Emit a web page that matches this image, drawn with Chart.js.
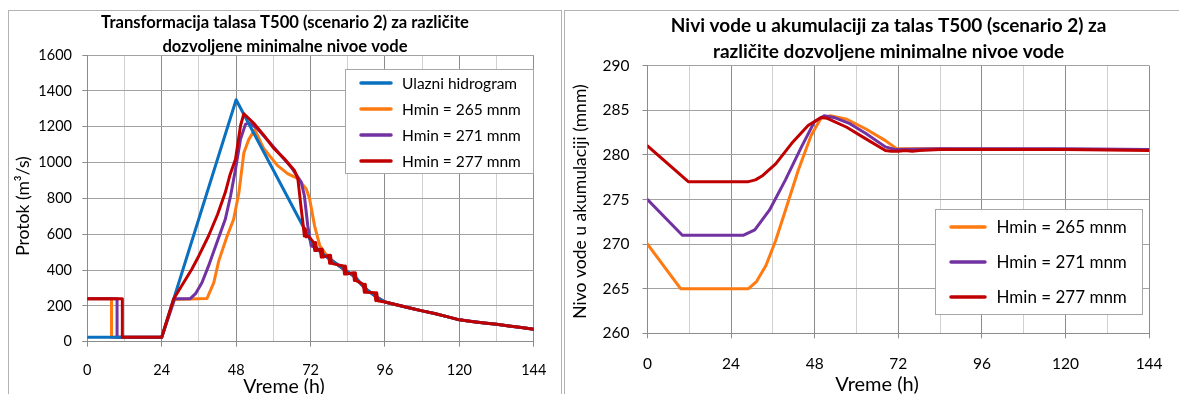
<!DOCTYPE html>
<html><head>
<meta charset="utf-8">
<title>T500 scenario 2</title>
<script src="https://cdn.jsdelivr.net/npm/chart.js"></script>
<style>
  body { margin:0; background:#fff; width:1179px; height:394px; overflow:hidden; position:relative; font-family:Lato, sans-serif }
  .panel { position:absolute; border:1.5px solid #b2b2b2; box-sizing:border-box }
  canvas { position:absolute }
</style>
</head><body>
<div class="panel" style="left:8px;top:10px;width:554px;height:420px"></div>
<div class="panel" style="left:564px;top:10px;width:640px;height:420px"></div>
<canvas id="left" width="553" height="400" style="left:8px;top:11px"></canvas>
<canvas id="right" width="615" height="400" style="left:564px;top:10px"></canvas>
<script>
// --- left chart: discharge (m3/s) vs time (h) ---
const hoursIn = [0, 24, 48, 72, 73.5, 75.6, 78.3, 83.1, 86.3, 89.5, 93.2, 96, 100, 104, 108, 112, 116, 120, 124, 128, 132, 136, 140, 144];
const flowIn  = [25, 25, 1350, 565, 531, 494, 460, 400, 363, 298, 251, 222, 205, 188, 172, 157, 140, 122, 113, 105, 97, 88, 79, 70];

const hours265 = [0, 7.8, 7.8, 24, 27.9, 38.6, 40.8, 42.4, 45.1, 47.2, 48.9, 50.5, 52.1, 54.0, 56.9, 61.3, 64.6, 67.9, 70.6, 71.7, 73.3, 75, 76.6, 78.3, 83.1, 86.3, 89.5, 93.2, 96, 100, 104, 108, 112, 116, 120, 124, 128, 132, 136, 140, 144];
const flow265  = [240, 240, 25, 25, 235, 241, 330, 451, 590, 683, 832, 1055, 1129, 1183, 1078, 984, 938, 910, 853, 797, 647, 535, 497, 460, 400, 363, 298, 251, 222, 205, 188, 172, 157, 140, 122, 113, 105, 97, 88, 79, 70];

const hours271 = [0, 9.6, 9.6, 24, 28.2, 33.2, 35, 37, 39.1, 41.8, 44.5, 46.2, 47.8, 49.4, 51, 52.1, 54.8, 59.1, 62.4, 65.7, 69, 70, 71.1, 72.2, 74, 75.6, 78.3, 83.1, 86.3, 89.5, 93.2, 96, 100, 104, 108, 112, 116, 120, 124, 128, 132, 136, 140, 144];
const flow271  = [240, 240, 25, 25, 240, 240, 270, 330, 423, 553, 683, 813, 962, 1129, 1213, 1222, 1190, 1106, 1041, 975, 891, 816, 647, 535, 522, 494, 460, 400, 363, 298, 251, 222, 205, 188, 172, 157, 140, 122, 113, 105, 97, 88, 79, 70];

const hours277 = [0, 11.3, 11.3, 24, 27.8, 30, 33.7, 36, 39.1, 42, 44.5, 46, 47.8, 49.4, 50.5, 53.7, 56.9, 60.2, 63.5, 66.8, 67.9, 69, 69.7, 70.0, 70.3, 70.6, 71.1, 72,
  73.05, 73.35, 73.65, 73.95, 75.15, 75.45, 75.75, 76.05, 77.85, 78.15, 78.45, 78.75, 80.5,
  82.65, 82.95, 83.25, 83.55, 85.85, 86.15, 86.45, 86.75, 89.05, 89.35, 89.65, 89.95, 92.75, 93.05, 93.35, 93.65,
  96, 100, 104, 108, 112, 116, 120, 124, 128, 132, 136, 140, 144];
const flow277  = [240, 240, 25, 25, 237, 300, 404, 480, 590, 710, 832, 930, 1018, 1204, 1272, 1219, 1153, 1078, 1022, 956, 910, 741, 640, 590, 630, 585, 591, 575,
  553, 509, 553, 509, 516, 472, 516, 472, 482, 438, 482, 438, 430,
  422, 378, 422, 378, 385, 341, 385, 341, 320, 276, 320, 276, 273, 229, 273, 229,
  222, 205, 188, 172, 157, 140, 122, 113, 105, 97, 88, 79, 70];

// --- right chart: reservoir level (mnm) vs time (h) ---
const lvlHours265 = [0, 9.5, 29, 31.3, 34, 36.8, 39.6, 43.3, 47, 49.8, 52.5, 57.2, 62.7, 68.3, 71.5, 84, 120, 144];
const level265    = [270, 265, 265, 265.8, 267.6, 270.4, 273.8, 278.3, 282.2, 284.1, 284.4, 284, 282.9, 281.6, 280.7, 280.7, 280.6, 280.6];
const lvlHours271 = [0, 10, 27.6, 30.8, 35, 39.6, 44.2, 47.9, 50.7, 53.5, 58.1, 62.7, 68.3, 71, 84, 120, 144];
const level271    = [275, 271, 271, 271.6, 273.8, 277.2, 280.9, 283.7, 284.4, 284.2, 283.5, 282.4, 280.9, 280.6, 280.7, 280.7, 280.6];
const lvlHours277 = [0, 11.7, 29, 31, 33.1, 36.8, 41.4, 46.1, 49.8, 51.6, 57.2, 62.7, 68.3, 70, 72, 74, 76, 78, 84, 96, 120, 144];
const level277    = [281.0, 277, 277, 277.2, 277.7, 279, 281.3, 283.3, 284.2, 284.1, 283.1, 281.8, 280.5, 280.4, 280.4, 280.5, 280.4, 280.5, 280.6, 280.6, 280.6, 280.5];

const xTicks = [0, 24, 48, 72, 96, 120, 144];

const BLUE = '#0a70c0', ORANGE = '#ff7a10', PURPLE = '#7232a2', RED = '#c00000';
const FONT = 'Lato, "Liberation Sans", sans-serif';

const pts = (xs, ys) => xs.map((x, i) => ({ x, y: ys[i] }));

// legend box drawn inside the plot, like the Excel original
const boxLegend = {
  id: 'boxLegend',
  afterDraw(chart, args, o) {
    const ctx = chart.ctx;
    ctx.save();
    ctx.fillStyle = '#fff';
    ctx.fillRect(o.x, o.y, o.w, o.h);
    ctx.strokeStyle = '#a6a6a6';
    ctx.lineWidth = 1;
    ctx.strokeRect(o.x + 0.5, o.y + 0.5, o.w, o.h);
    ctx.font = o.font;
    ctx.textBaseline = 'middle';
    chart.data.datasets.forEach((ds, i) => {
      const y = o.rows[i];
      ctx.strokeStyle = ds.borderColor;
      ctx.lineWidth = 3.5;
      ctx.lineCap = 'round';
      ctx.beginPath();
      ctx.moveTo(o.lineX1, y);
      ctx.lineTo(o.lineX2, y);
      ctx.stroke();
      ctx.fillStyle = '#000';
      ctx.fillText(ds.label, o.textX, y + 1);
    });
    ctx.restore();
  }
};

// chart title and axis captions placed where Excel put them (not centred on the plot)
const captions = {
  id: 'captions',
  afterDraw(chart, args, o) {
    const ctx = chart.ctx;
    ctx.save();
    ctx.fillStyle = '#000';
    ctx.textAlign = 'center';
    ctx.textBaseline = 'middle';
    o.items.forEach(it => {
      ctx.save();
      ctx.font = it.font;
      ctx.translate(it.x, it.y);
      if (it.vertical) ctx.rotate(-Math.PI / 2);
      ctx.fillText(it.text, 0, 0);
      ctx.restore();
    });
    ctx.restore();
  }
};

function xAxis(size, tickPad, height) {
  return {
    type: 'linear', min: 0, max: 144,
    afterFit: s => { s.height = height; },
    afterBuildTicks: s => { s.ticks = []; for (let v = 0; v <= 144; v += 12) s.ticks.push({ value: v }); },
    ticks: {
      autoSkip: false, maxRotation: 0, padding: tickPad, color: '#000',
      font: { family: FONT, size },
      callback: v => xTicks.includes(v) ? String(v) : ''
    },
    grid: {
      color: c => (c.tick && xTicks.includes(c.tick.value)) ? '#8c8c8c' : '#d0d0d0',
      tickColor: c => (c.tick && xTicks.includes(c.tick.value)) ? '#8c8c8c' : 'rgba(0,0,0,0)',
      tickLength: 5
    },
    border: { color: '#8c8c8c' }
  };
}

function yAxis(min, max, step, size, tickPad, width) {
  return {
    min, max,
    afterFit: s => { s.width = width; },
    ticks: { stepSize: step, padding: tickPad, color: '#000', font: { family: FONT, size }, callback: v => String(v) },
    grid: { color: '#a2a2a2', tickColor: '#8c8c8c', tickLength: 5 },
    border: { color: '#8c8c8c' }
  };
}

const lineDs = (label, data, color, order) => ({
  label, data, borderColor: color, backgroundColor: color, borderWidth: 3,
  pointRadius: 0, tension: 0, order, borderJoinStyle: 'round', borderCapStyle: 'round'
});

new Chart(document.getElementById('left'), {
  type: 'line',
  data: {
    datasets: [
      lineDs('Ulazni hidrogram', pts(hoursIn, flowIn), BLUE, 1),
      lineDs('Hmin = 265 mnm', pts(hours265, flow265), ORANGE, 3),
      lineDs('Hmin = 271 mnm', pts(hours271, flow271), PURPLE, 2),
      lineDs('Hmin = 277 mnm', pts(hours277, flow277), RED, 0)
    ]
  },
  options: {
    responsive: false, animation: false, events: [],
    layout: { padding: { left: 0, right: 21.4, top: 44, bottom: 0 } },
    scales: {
      x: xAxis(14.5, 14.6, 69.3),
      y: yAxis(0, 1600, 200, 14.5, 10.3, 79.3)
    },
    plugins: {
      legend: { display: false },
      tooltip: { enabled: false },
      boxLegend: {
        x: 337, y: 58, w: 188, h: 104, rows: [72, 98, 124, 150],
        lineX1: 353, lineX2: 383, textX: 394, font: '15.5px ' + FONT
      },
      captions: {
        items: [
          { text: 'Transformacija talasa T500 (scenario 2) za različite', x: 277, y: 12, font: 'bold 16.6px ' + FONT },
          { text: 'dozvoljene minimalne nivoe vode', x: 277, y: 36, font: 'bold 16.6px ' + FONT },
          { text: 'Vreme (h)', x: 276, y: 376, font: '19.5px ' + FONT },
          { text: 'Protok (m³/s)', x: 15, y: 195, vertical: true, font: '17.5px ' + FONT }
        ]
      }
    }
  },
  plugins: [boxLegend, captions]
});

new Chart(document.getElementById('right'), {
  type: 'line',
  data: {
    datasets: [
      lineDs('Hmin = 265 mnm', pts(lvlHours265, level265), ORANGE, 2),
      lineDs('Hmin = 271 mnm', pts(lvlHours271, level271), PURPLE, 1),
      lineDs('Hmin = 277 mnm', pts(lvlHours277, level277), RED, 0)
    ]
  },
  options: {
    responsive: false, animation: false, events: [],
    layout: { padding: { left: 0, right: 12.4, top: 55.7, bottom: 0 } },
    scales: {
      x: xAxis(15.5, 16.4, 76.7),
      y: yAxis(260, 290, 5, 15.5, 13, 83.5)
    },
    plugins: {
      legend: { display: false },
      tooltip: { enabled: false },
      boxLegend: {
        x: 371, y: 199, w: 207, h: 105, rows: [217, 252, 287],
        lineX1: 387, lineX2: 421, textX: 432.5, font: '17px ' + FONT
      },
      captions: {
        items: [
          { text: 'Nivi vode u akumulaciji za talas T500 (scenario 2) za', x: 324.6, y: 16, font: 'bold 19px ' + FONT },
          { text: 'različite dozvoljene minimalne nivoe vode', x: 324.6, y: 42, font: 'bold 19px ' + FONT },
          { text: 'Vreme (h)', x: 313, y: 375, font: '20px ' + FONT },
          { text: 'Nivo vode u akumulaciji (mnm)', x: 16, y: 191.5, vertical: true, font: '17.5px ' + FONT }
        ]
      }
    }
  },
  plugins: [boxLegend, captions]
});
</script>
</body></html>
